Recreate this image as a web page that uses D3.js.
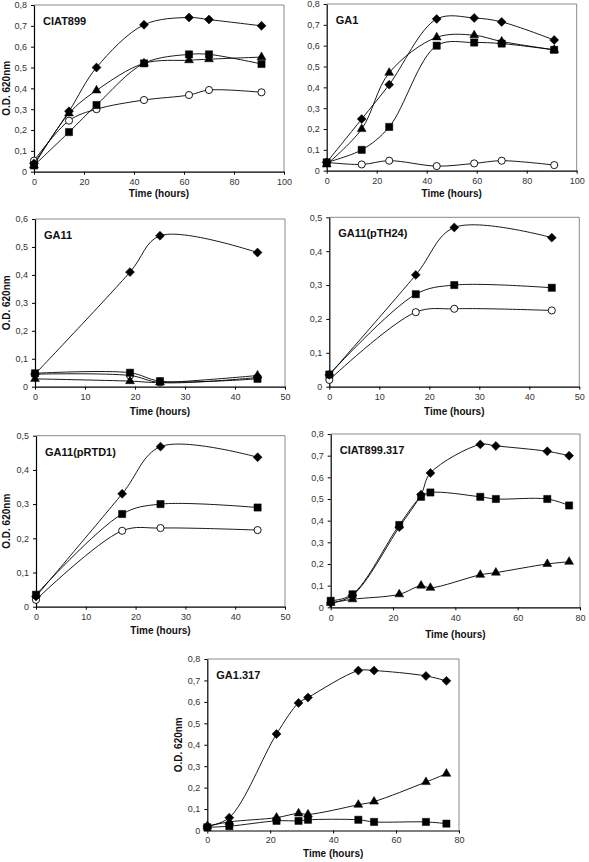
<!DOCTYPE html>
<html><head><meta charset="utf-8">
<script src="https://cdn.jsdelivr.net/npm/d3@7"></script>
<style>
body{margin:0;background:#fff;}
svg{display:block;font-family:Arial,"Liberation Sans",sans-serif;}
</style></head>
<body><svg id="c" width="589" height="862"></svg>
<script>
// ---------- DATA ----------
// CIAT899
const ciat899Time = [0, 14, 25, 44, 62, 70, 91];
const ciat899Diamond = [0.04, 0.29, 0.50, 0.705, 0.74, 0.73, 0.70];
const ciat899Square = [0.03, 0.19, 0.32, 0.52, 0.563, 0.563, 0.517];
const ciat899Triangle = [0.03, 0.28, 0.39, 0.52, 0.535, 0.54, 0.55];
const ciat899Circle = [0.053, 0.245, 0.30, 0.344, 0.368, 0.392, 0.381];
// GA1
const ga1Time = [0, 14, 25, 44, 59, 70, 91];
const ga1Diamond = [0.04, 0.248, 0.413, 0.728, 0.733, 0.714, 0.627];
const ga1Triangle = [0.03, 0.20, 0.47, 0.64, 0.65, 0.62, 0.58];
const ga1Square = [0.04, 0.10, 0.21, 0.60, 0.615, 0.61, 0.58];
const ga1Circle = [0.04, 0.03, 0.048, 0.022, 0.035, 0.048, 0.027];
// GA11
const ga11Time = [0, 19, 25, 44.5];
const ga11Diamond = [0.045, 0.41, 0.54, 0.48];
const ga11Circle = [0.045, 0.04, 0.015, 0.033];
const ga11Triangle = [0.028, 0.02, 0.015, 0.04];
const ga11Square = [0.048, 0.05, 0.02, 0.028];
// GA11(pTH24)
const pth24Time = [0, 17.3, 25, 44.5];
const pth24Diamond = [0.035, 0.33, 0.47, 0.44];
const pth24Square = [0.036, 0.273, 0.30, 0.292];
const pth24Circle = [0.02, 0.22, 0.23, 0.225];
// GA11(pRTD1)
const prtd1Time = [0, 17.3, 25, 44.5];
const prtd1Diamond = [0.03, 0.33, 0.468, 0.437];
const prtd1Square = [0.035, 0.271, 0.30, 0.29];
const prtd1Circle = [0.02, 0.222, 0.23, 0.224];
// CIAT899.317
const ciat317Time = [0, 7, 22, 29, 32, 48, 53, 69.5, 76.5];
const ciat317Diamond = [0.02, 0.055, 0.37, 0.52, 0.62, 0.752, 0.745, 0.72, 0.70];
const ciat317Triangle = [0.02, 0.037, 0.06, 0.10, 0.09, 0.15, 0.16, 0.20, 0.21];
const ciat317Square = [0.03, 0.06, 0.38, 0.51, 0.53, 0.51, 0.50, 0.50, 0.47];
// GA1.317
const ga1317Time = [0, 7, 22, 29, 32, 48, 53, 69.5, 76];
const ga1317Diamond = [0.02, 0.06, 0.45, 0.595, 0.62, 0.746, 0.746, 0.721, 0.698];
const ga1317Triangle = [0.02, 0.04, 0.06, 0.08, 0.075, 0.12, 0.135, 0.226, 0.265];
const ga1317Square = [0.015, 0.02, 0.045, 0.045, 0.05, 0.05, 0.04, 0.04, 0.032];

const yTicks08 = [0, 0.1, 0.2, 0.3, 0.4, 0.5, 0.6, 0.7, 0.8];
const yTicks06 = [0, 0.1, 0.2, 0.3, 0.4, 0.5, 0.6];
const yTicks05 = [0, 0.1, 0.2, 0.3, 0.4, 0.5];
const xTicks100 = [0, 20, 40, 60, 80, 100];
const xTicks50 = [0, 10, 20, 30, 40, 50];
const xTicks80 = [0, 20, 40, 60, 80];

const panelTitles = ["CIAT899", "GA1", "GA11", "GA11(pTH24)", "GA11(pRTD1)", "CIAT899.317", "GA1.317"];
const xAxisTitle = "Time (hours)";
const yAxisTitle = "O.D. 620nm";

// ---------- LAYOUT ----------
const panels = [
  {title: panelTitles[0], box: [34, 284, 5, 171.7], xmax: 100, ymax: 0.8, xt: xTicks100, yt: yTicks08, yTitle: true, xTitleY: 193, yTitleX: 6,
   time: ciat899Time, series: [["circle", ciat899Circle], ["triangle", ciat899Triangle], ["square", ciat899Square], ["diamond", ciat899Diamond]]},
  {title: panelTitles[1], box: [326.7, 576.7, 4, 170.7], xmax: 100, ymax: 0.8, xt: xTicks100, yt: yTicks08, yTitle: false, xTitleY: 193,
   time: ga1Time, series: [["circle", ga1Circle], ["triangle", ga1Triangle], ["square", ga1Square], ["diamond", ga1Diamond]]},
  {title: panelTitles[2], box: [35, 285, 219, 386.7], xmax: 50, ymax: 0.6, xt: xTicks50, yt: yTicks06, yTitle: true, xTitleY: 411, yTitleX: 6,
   time: ga11Time, series: [["circle", ga11Circle], ["triangle", ga11Triangle], ["square", ga11Square], ["diamond", ga11Diamond]]},
  {title: panelTitles[3], box: [329.3, 579.3, 217.3, 386.7], xmax: 50, ymax: 0.5, xt: xTicks50, yt: yTicks05, yTitle: false, xTitleY: 411,
   time: pth24Time, series: [["circle", pth24Circle], ["square", pth24Square], ["diamond", pth24Diamond]]},
  {title: panelTitles[4], box: [36, 285, 435.7, 606.7], xmax: 50, ymax: 0.5, xt: xTicks50, yt: yTicks05, yTitle: true, xTitleY: 630, yTitleX: 6,
   time: prtd1Time, series: [["circle", prtd1Circle], ["square", prtd1Square], ["diamond", prtd1Diamond]]},
  {title: panelTitles[5], box: [330.7, 580, 434, 607.3], xmax: 80, ymax: 0.8, xt: xTicks80, yt: yTicks08, yTitle: false, xTitleY: 634,
   time: ciat317Time, series: [["triangle", ciat317Triangle], ["square", ciat317Square], ["diamond", ciat317Diamond]]},
  {title: panelTitles[6], box: [207.3, 459, 659, 830.5], xmax: 80, ymax: 0.8, xt: xTicks80, yt: yTicks08, yTitle: true, xTitleY: 853, yTitleX: 178, xPad: 3,
   time: ga1317Time, series: [["triangle", ga1317Triangle], ["square", ga1317Square], ["diamond", ga1317Diamond]]}
];

const loc = d3.formatLocale({decimal: ",", thousands: ".", grouping: [3], currency: ["", ""]});
const f1 = loc.format(".1f");
const yFmt = d => d === 0 ? "0" : f1(d);

const svg = d3.select("#c");

const symbols = {
  diamond: {type: d3.symbolSquare, size: 40, rot: 45, fill: "#000"},
  square: {type: d3.symbolSquare, size: 52, rot: 0, fill: "#000"},
  triangle: {type: d3.symbolTriangle, size: 34, rot: 0, fill: "#000"},
  circle: {type: d3.symbolCircle, size: 40, rot: 0, fill: "#fff"}
};

panels.forEach(p => {
  const [l, r, t, b] = p.box;
  const x = d3.scaleLinear().domain([0, p.xmax]).range([l, r]);
  const y = d3.scaleLinear().domain([0, p.ymax]).range([b, t]);
  const g = svg.append("g");

  // frame top/right (grey)
  g.append("path").attr("d", `M${l},${t}H${r}V${b}`).attr("fill", "none").attr("stroke", "#8a8a8a").attr("stroke-width", 1);

  const xa = g.append("g").attr("transform", `translate(0,${b})`)
    .call(d3.axisBottom(x).tickValues(p.xt).tickFormat(d3.format("d")).tickSize(3).tickSizeOuter(0).tickPadding(p.xPad || 4));
  const ya = g.append("g").attr("transform", `translate(${l},0)`)
    .call(d3.axisLeft(y).tickValues(p.yt).tickFormat(yFmt).tickSize(3).tickSizeOuter(0).tickPadding(4));
  [xa, ya].forEach(a => {
    a.selectAll("text").attr("font-size", 9).attr("fill", "#333").attr("font-family", "Arial, 'Liberation Sans', sans-serif");
    a.select(".domain").attr("stroke", "#000").attr("stroke-width", 1.2);
    a.selectAll(".tick line").attr("stroke", "#000");
  });

  const line = d3.line().x((d, i) => x(p.time[i])).y(d => y(d)).curve(d3.curveCatmullRom.alpha(0.5));
  p.series.forEach(([kind, vals]) => {
    const s = symbols[kind];
    g.append("path").attr("d", line(vals)).attr("fill", "none").attr("stroke", "#000").attr("stroke-width", 0.9);
    g.selectAll(null).data(vals).enter().append("path")
      .attr("d", d3.symbol().type(s.type).size(s.size))
      .attr("transform", (d, i) => `translate(${x(p.time[i])},${y(d)}) rotate(${s.rot})`)
      .attr("fill", s.fill).attr("stroke", "#000").attr("stroke-width", kind === "circle" ? 0.9 : 0.5);
  });

  g.append("text").attr("x", l + 9).attr("y", t + 20).text(p.title)
    .attr("font-size", 11).attr("font-weight", "bold").attr("fill", "#111");
  g.append("text").attr("x", (l + r) / 2).attr("y", p.xTitleY).attr("dy", "0.35em").attr("text-anchor", "middle")
    .text(xAxisTitle).attr("font-size", 10).attr("font-weight", "bold").attr("fill", "#111");
  if (p.yTitle) {
    g.append("text").attr("transform", `translate(${p.yTitleX},${(t + b) / 2}) rotate(-90)`)
      .attr("text-anchor", "middle").attr("dy", "0.35em").text(yAxisTitle)
      .attr("font-size", 10).attr("font-weight", "bold").attr("fill", "#111");
  }
});
</script></body></html>
